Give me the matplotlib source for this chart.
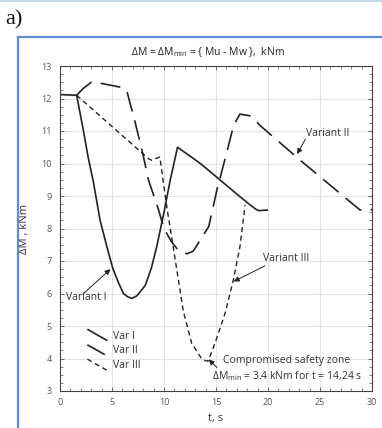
import numpy as np
import matplotlib.pyplot as plt
from matplotlib.lines import Line2D
from matplotlib.ticker import MultipleLocator

plt.rcParams['font.family'] = ['Open Sans', 'DejaVu Sans']
plt.rcParams['mathtext.fontset'] = 'custom'
plt.rcParams['mathtext.rm'] = 'Open Sans'
plt.rcParams['mathtext.it'] = 'Open Sans:italic'

# Var I (solid)
t1 = [0, 1.6, 2.2, 2.7, 3.2, 3.85, 4.5, 5.07, 5.6, 6.1, 6.5, 6.9, 7.4, 8.2, 8.8, 9.3,
      10.0, 10.6, 11.3, 13.5, 17.3, 18.3, 18.8, 19.1, 20.0]
y1 = [12.12, 12.1, 11.1, 10.2, 9.45, 8.26, 7.45, 6.78, 6.35, 6.0, 5.9, 5.85, 5.93, 6.25,
      6.8, 7.44, 8.5, 9.49, 10.5, 10.0, 8.98, 8.72, 8.6, 8.55, 8.57]

# Var II (long dash)
t2 = [1.6, 2.2, 3.0, 3.4, 6.1, 6.4, 7.2, 8.0, 8.5, 9.45, 10.0, 10.7, 11.4, 12.2, 12.8,
      13.2, 14.3, 15.1, 16.0, 16.7, 17.3, 18.4, 19.2, 23.1, 28.05, 28.85, 30.0]
y2 = [12.1, 12.3, 12.5, 12.5, 12.33, 12.26, 11.3, 10.25, 9.5, 8.6, 8.0, 7.6, 7.32, 7.22,
      7.3, 7.5, 8.06, 9.2, 10.3, 11.18, 11.52, 11.46, 11.18, 10.1, 8.78, 8.57, 8.58]

# Var III (short dash)
t3 = [1.6, 8.5, 8.8, 9.6, 10.3, 11.0, 11.86, 12.66, 13.6, 14.0, 14.25, 14.9, 15.87,
      16.67, 17.3, 17.8]
y3 = [12.1, 10.15, 10.1, 10.2, 8.6, 7.2, 5.45, 4.47, 4.0, 3.93, 3.92, 4.47, 5.39,
      6.42, 7.44, 8.72]

# legend sample segments and label text
leg_names = ['Var I', 'Var II', 'Var III']
leg_x = [[2.63, 4.55], [2.63, 4.64], [2.63, 4.55]]
leg_y = [[4.9, 4.55], [4.42, 4.06], [3.98, 3.63]]
leg_text_y = [4.67, 4.24, 3.78]

ink = '#222222'
txt = '#333333'
solid = dict(color=ink, lw=1.2, solid_capstyle='butt')
longd = dict(color=ink, lw=1.2, dashes=(12, 5.5))
shortd = dict(color=ink, lw=1.0, dashes=(3.6, 2.6))
styles = [solid, longd, shortd]

fig = plt.figure(figsize=(3.82, 4.28), dpi=100)
ax = fig.add_axes([60/382, 37/428, 312/382, 325/428])

ax.plot(t1, y1, **solid)
ax.plot(t2, y2, **longd)
ax.plot(t3, y3, **shortd)

for xs, ys, st in zip(leg_x, leg_y, styles):
    ax.plot(xs, ys, **st)
for name, ty in zip(leg_names, leg_text_y):
    ax.text(5.1, ty, name, fontsize=7.5, color=txt, va='center')

arr = dict(arrowstyle='-|>', color=ink, lw=0.7, mutation_scale=8, shrinkA=0, shrinkB=0)
ax.text(0.6, 5.88, 'Variant I', fontsize=7.5, color=txt, va='center')
ax.annotate('', xy=(4.85, 6.75), xytext=(2.2, 5.98), arrowprops=arr)
ax.text(23.7, 10.93, 'Variant II', fontsize=7.5, color=txt, va='center')
ax.annotate('', xy=(22.8, 10.29), xytext=(23.6, 10.75), arrowprops=arr)
ax.text(19.5, 7.09, 'Variant III', fontsize=7.5, color=txt, va='center')
ax.annotate('', xy=(16.7, 6.37), xytext=(19.7, 6.85), arrowprops=arr)
ax.annotate('', xy=(14.3, 3.97), xytext=(15.1, 3.72), arrowprops=arr)
ax.text(15.7, 3.93, 'Compromised safety zone', fontsize=7.5, color=txt, va='center')
ax.text(14.6, 3.47, r'ΔM$_{\mathregular{min}}$ = 3.4 kNm for t = 14,24 s',
        fontsize=7.5, color=txt, va='center')

ax.set_xlim(0, 30)
ax.set_ylim(3, 13)
ax.xaxis.set_major_locator(MultipleLocator(5))
ax.xaxis.set_minor_locator(MultipleLocator(1))
ax.yaxis.set_major_locator(MultipleLocator(1))
ax.yaxis.set_minor_locator(MultipleLocator(0.25))
ax.tick_params(which='both', direction='in', top=True, right=True, colors='#555555',
               labelsize=6.5, labelcolor='#555555')
ax.tick_params(which='major', length=3, width=0.6)
ax.tick_params(which='minor', length=2, width=0.5)
ax.tick_params(axis='y', pad=6)
ax.tick_params(axis='x', pad=5)
ax.grid(True, which='major', color='#e3e3e3', lw=0.8)
ax.set_axisbelow(True)
for s in ax.spines.values():
    s.set_color('#444444')
    s.set_linewidth(0.8)

ax.set_xlabel('t, s', fontsize=8, color=txt, labelpad=4)
ax.set_ylabel('ΔM , kNm', fontsize=8, color=txt, labelpad=8)

fig.text(0.545, 1 - 52/428, r'ΔM = ΔM$_{\mathregular{min}}$ = { Mu - Mw },  kNm',
         fontsize=7.5, color='#222222', ha='center', va='center')

# frame around the panel
fig.add_artist(Line2D([18/382, 18/382], [0, 1 - 37/428], color='#5b8fd2', lw=1.6))
fig.add_artist(Line2D([18/382, 1], [1 - 37/428, 1 - 37/428], color='#5b8fd2', lw=1.6))
fig.add_artist(Line2D([0, 1], [0.998, 0.998], color='#b9d1ef', lw=1.2))
fig.text(5/382, 1 - 20/428, 'a)', fontsize=16, family='Liberation Serif',
         color='#111111', va='center', ha='left')

fig.savefig('out.png', dpi=100)
